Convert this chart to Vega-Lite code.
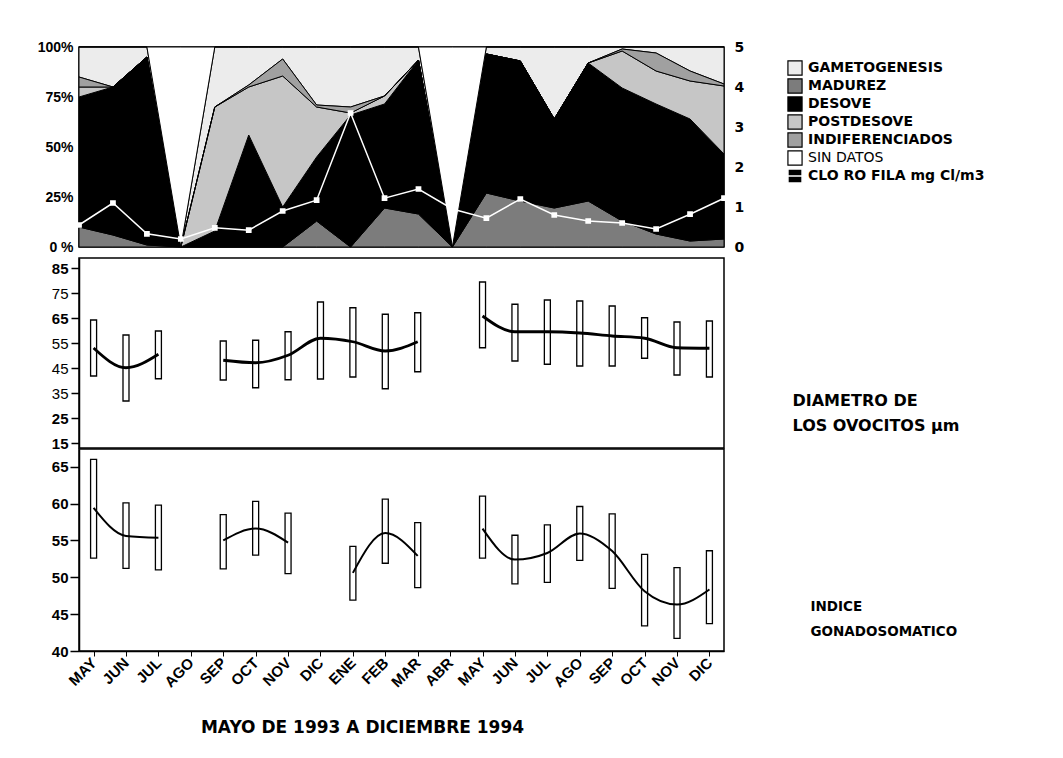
{
  "$schema": "https://vega.github.io/schema/vega-lite/v6.json",
  "background": "white",
  "padding": {"left": 36, "top": 39, "right": 0, "bottom": 5},
  "config": {
    "font": "Liberation Sans",
    "view": {"stroke": "black", "strokeWidth": 1.5},
    "axis": {"grid": false, "labelColor": "black", "titleColor": "black", "domainColor": "black", "tickColor": "black"}
  },
  "datasets": {
    "fases": [
      {"mes": "MAY 1993", "GAMETOGENESIS": 15, "MADUREZ": 10, "DESOVE": 65, "POSTDESOVE": 5, "INDIFERENCIADOS": 5, "SIN DATOS": 0, "clorofila": 0.55},
      {"mes": "JUN 1993", "GAMETOGENESIS": 20, "MADUREZ": 6, "DESOVE": 74, "POSTDESOVE": 0, "INDIFERENCIADOS": 0, "SIN DATOS": 0, "clorofila": 1.1},
      {"mes": "JUL 1993", "GAMETOGENESIS": 5, "MADUREZ": 1, "DESOVE": 94, "POSTDESOVE": 0, "INDIFERENCIADOS": 0, "SIN DATOS": 0, "clorofila": 0.33},
      {"mes": "AGO 1993", "GAMETOGENESIS": 0, "MADUREZ": 0, "DESOVE": 0, "POSTDESOVE": 0, "INDIFERENCIADOS": 0, "SIN DATOS": 100, "clorofila": 0.2},
      {"mes": "SEP 1993", "GAMETOGENESIS": 30, "MADUREZ": 0, "DESOVE": 8, "POSTDESOVE": 62, "INDIFERENCIADOS": 0, "SIN DATOS": 0, "clorofila": 0.48},
      {"mes": "OCT 1993", "GAMETOGENESIS": 19, "MADUREZ": 0, "DESOVE": 56, "POSTDESOVE": 24, "INDIFERENCIADOS": 1, "SIN DATOS": 0, "clorofila": 0.42},
      {"mes": "NOV 1993", "GAMETOGENESIS": 6, "MADUREZ": 0, "DESOVE": 20, "POSTDESOVE": 65.5, "INDIFERENCIADOS": 8.5, "SIN DATOS": 0, "clorofila": 0.9},
      {"mes": "DIC 1993", "GAMETOGENESIS": 29, "MADUREZ": 13, "DESOVE": 32, "POSTDESOVE": 25, "INDIFERENCIADOS": 1, "SIN DATOS": 0, "clorofila": 1.17},
      {"mes": "ENE 1994", "GAMETOGENESIS": 30, "MADUREZ": 0, "DESOVE": 66, "POSTDESOVE": 1, "INDIFERENCIADOS": 3, "SIN DATOS": 0, "clorofila": 3.35},
      {"mes": "FEB 1994", "GAMETOGENESIS": 24.5, "MADUREZ": 19.5, "DESOVE": 52, "POSTDESOVE": 4, "INDIFERENCIADOS": 0, "SIN DATOS": 0, "clorofila": 1.22},
      {"mes": "MAR 1994", "GAMETOGENESIS": 6.5, "MADUREZ": 16.5, "DESOVE": 77, "POSTDESOVE": 0, "INDIFERENCIADOS": 0, "SIN DATOS": 0, "clorofila": 1.45},
      {"mes": "ABR 1994", "GAMETOGENESIS": 0, "MADUREZ": 0, "DESOVE": 0, "POSTDESOVE": 0, "INDIFERENCIADOS": 0, "SIN DATOS": 100, "clorofila": 0.95},
      {"mes": "MAY 1994", "GAMETOGENESIS": 3.5, "MADUREZ": 27, "DESOVE": 69.5, "POSTDESOVE": 0, "INDIFERENCIADOS": 0, "SIN DATOS": 0, "clorofila": 0.72},
      {"mes": "JUN 1994", "GAMETOGENESIS": 7, "MADUREZ": 23, "DESOVE": 70, "POSTDESOVE": 0, "INDIFERENCIADOS": 0, "SIN DATOS": 0, "clorofila": 1.2},
      {"mes": "JUL 1994", "GAMETOGENESIS": 36, "MADUREZ": 19.5, "DESOVE": 44.5, "POSTDESOVE": 0, "INDIFERENCIADOS": 0, "SIN DATOS": 0, "clorofila": 0.8},
      {"mes": "AGO 1994", "GAMETOGENESIS": 8, "MADUREZ": 23, "DESOVE": 69, "POSTDESOVE": 0, "INDIFERENCIADOS": 0, "SIN DATOS": 0, "clorofila": 0.65},
      {"mes": "SEP 1994", "GAMETOGENESIS": 1, "MADUREZ": 13, "DESOVE": 66.5, "POSTDESOVE": 18.5, "INDIFERENCIADOS": 1, "SIN DATOS": 0, "clorofila": 0.6},
      {"mes": "OCT 1994", "GAMETOGENESIS": 3, "MADUREZ": 6.5, "DESOVE": 65, "POSTDESOVE": 16.5, "INDIFERENCIADOS": 9, "SIN DATOS": 0, "clorofila": 0.45},
      {"mes": "NOV 1994", "GAMETOGENESIS": 12, "MADUREZ": 3, "DESOVE": 61, "POSTDESOVE": 19, "INDIFERENCIADOS": 5, "SIN DATOS": 0, "clorofila": 0.82},
      {"mes": "DIC 1994", "GAMETOGENESIS": 18.5, "MADUREZ": 4, "DESOVE": 42.5, "POSTDESOVE": 34, "INDIFERENCIADOS": 1, "SIN DATOS": 0, "clorofila": 1.22}
    ],
    "orden": [
      {"fase": "MADUREZ", "orden": 1},
      {"fase": "DESOVE", "orden": 2},
      {"fase": "POSTDESOVE", "orden": 3},
      {"fase": "INDIFERENCIADOS", "orden": 4},
      {"fase": "GAMETOGENESIS", "orden": 5},
      {"fase": "SIN DATOS", "orden": 6}
    ],
    "diametro": [
      {"mes": "MAY 1993", "tramo": 1, "media": 53, "min": 41.8, "max": 64.2},
      {"mes": "JUN 1993", "tramo": 1, "media": 45.1, "min": 31.8, "max": 58.2},
      {"mes": "JUL 1993", "tramo": 1, "media": 50.5, "min": 40.7, "max": 59.8},
      {"mes": "SEP 1993", "tramo": 2, "media": 48.1, "min": 40.2, "max": 55.8},
      {"mes": "OCT 1993", "tramo": 2, "media": 47.1, "min": 37.1, "max": 56.1},
      {"mes": "NOV 1993", "tramo": 2, "media": 50.1, "min": 40.3, "max": 59.5},
      {"mes": "DIC 1993", "tramo": 2, "media": 56.9, "min": 40.6, "max": 71.4},
      {"mes": "ENE 1994", "tramo": 2, "media": 55.5, "min": 41.4, "max": 69.1},
      {"mes": "FEB 1994", "tramo": 2, "media": 51.8, "min": 36.7, "max": 66.5},
      {"mes": "MAR 1994", "tramo": 2, "media": 55.5, "min": 43.5, "max": 67.1},
      {"mes": "MAY 1994", "tramo": 3, "media": 65.8, "min": 53.1, "max": 79.4},
      {"mes": "JUN 1994", "tramo": 3, "media": 59.5, "min": 47.8, "max": 70.5},
      {"mes": "JUL 1994", "tramo": 3, "media": 59.5, "min": 46.5, "max": 72.2},
      {"mes": "AGO 1994", "tramo": 3, "media": 59, "min": 45.8, "max": 71.8},
      {"mes": "SEP 1994", "tramo": 3, "media": 57.8, "min": 45.8, "max": 69.8},
      {"mes": "OCT 1994", "tramo": 3, "media": 56.9, "min": 48.9, "max": 65.1},
      {"mes": "NOV 1994", "tramo": 3, "media": 53.1, "min": 42.2, "max": 63.4},
      {"mes": "DIC 1994", "tramo": 3, "media": 52.9, "min": 41.4, "max": 63.8}
    ],
    "igs": [
      {"mes": "MAY 1993", "tramo": 1, "media": 59.4, "min": 52.6, "max": 66.0},
      {"mes": "JUN 1993", "tramo": 1, "media": 55.6, "min": 51.2, "max": 60.1},
      {"mes": "JUL 1993", "tramo": 1, "media": 55.35, "min": 51.0, "max": 59.8},
      {"mes": "SEP 1993", "tramo": 2, "media": 55.0, "min": 51.15, "max": 58.5},
      {"mes": "OCT 1993", "tramo": 2, "media": 56.6, "min": 53.0, "max": 60.3},
      {"mes": "NOV 1993", "tramo": 2, "media": 54.7, "min": 50.5, "max": 58.7},
      {"mes": "ENE 1994", "tramo": 3, "media": 50.6, "min": 46.9, "max": 54.2},
      {"mes": "FEB 1994", "tramo": 3, "media": 56.0, "min": 51.9, "max": 60.6},
      {"mes": "MAR 1994", "tramo": 3, "media": 52.9, "min": 48.6, "max": 57.4},
      {"mes": "MAY 1994", "tramo": 4, "media": 56.6, "min": 52.6, "max": 61.0},
      {"mes": "JUN 1994", "tramo": 4, "media": 52.4, "min": 49.1, "max": 55.7},
      {"mes": "JUL 1994", "tramo": 4, "media": 53.3, "min": 49.3, "max": 57.1},
      {"mes": "AGO 1994", "tramo": 4, "media": 55.95, "min": 52.3, "max": 59.6},
      {"mes": "SEP 1994", "tramo": 4, "media": 53.55, "min": 48.5, "max": 58.6},
      {"mes": "OCT 1994", "tramo": 4, "media": 48.1, "min": 43.4, "max": 53.1},
      {"mes": "NOV 1994", "tramo": 4, "media": 46.3, "min": 41.7, "max": 51.3},
      {"mes": "DIC 1994", "tramo": 4, "media": 48.35, "min": 43.7, "max": 53.6}
    ]
  },
  "bounds": "flush",
  "spacing": 11,
  "vconcat": [
    {
      "width": 645,
      "height": 200,
      "layer": [
        {
          "data": {"name": "fases"},
          "transform": [
            {"fold": ["GAMETOGENESIS", "MADUREZ", "DESOVE", "POSTDESOVE", "INDIFERENCIADOS", "SIN DATOS"], "as": ["fase", "pct"]},
            {"lookup": "fase", "from": {"data": {"name": "orden"}, "key": "fase", "fields": ["orden"]}}
          ],
          "mark": {"type": "area", "interpolate": "linear", "stroke": "black", "strokeWidth": 1},
          "encoding": {
            "x": {"field": "mes", "type": "ordinal", "scale": {"type": "point", "padding": 0, "domain": ["MAY 1993","JUN 1993","JUL 1993","AGO 1993","SEP 1993","OCT 1993","NOV 1993","DIC 1993","ENE 1994","FEB 1994","MAR 1994","ABR 1994","MAY 1994","JUN 1994","JUL 1994","AGO 1994","SEP 1994","OCT 1994","NOV 1994","DIC 1994"]}, "axis": null},
            "y": {"field": "pct", "type": "quantitative", "stack": "zero", "scale": {"domain": [0, 100], "nice": false},
              "axis": {"values": [0, 25, 50, 75, 100], "title": null, "domain": false, "ticks": false, "labelPadding": 6, "labelFontSize": 14, "labelFontWeight": "bold", "labelExpr": "datum.value == 0 ? '0 %' : datum.value + '%'"}},
            "fill": {"field": "fase", "type": "nominal",
              "scale": {"domain": ["GAMETOGENESIS", "MADUREZ", "DESOVE", "POSTDESOVE", "INDIFERENCIADOS", "SIN DATOS"], "range": ["#ececec", "#7c7c7c", "#000000", "#c6c6c6", "#a0a0a0", "#ffffff"]},
              "legend": {"orient": "none", "legendX": 708, "legendY": 13, "title": null, "symbolType": "square", "symbolSize": 200, "symbolStrokeColor": "black", "symbolStrokeWidth": 1.2, "labelFont": "DejaVu Sans", "labelFontSize": 14, "labelFontWeight": "bold", "labelColor": "black", "labelLimit": 400, "rowPadding": -2, "labelOffset": 5,
                "encode": {"symbols": {"update": {"stroke": {"value": "black"}, "strokeWidth": {"value": 1.2}}}, "labels": {"update": {"fontWeight": {"signal": "datum.label == 'SIN DATOS' ? 'normal' : 'bold'"}}}}}},
            "order": {"field": "orden", "type": "quantitative"}
          }
        },
        {
          "data": {"name": "fases"},
          "mark": {"type": "line", "strokeWidth": 1.5, "point": {"shape": "square", "size": 14, "filled": true, "fill": "white"}},
          "encoding": {
            "x": {"field": "mes", "type": "ordinal"},
            "y": {"field": "clorofila", "type": "quantitative", "scale": {"domain": [0, 5], "nice": false},
              "axis": {"orient": "right", "values": [0, 1, 2, 3, 4, 5], "title": null, "domain": false, "ticks": false, "labelPadding": 10, "labelFont": "DejaVu Sans", "labelFontSize": 14, "labelFontWeight": "bold"}},
            "stroke": {"datum": "CLO RO FILA mg Cl/m3", "type": "nominal", "scale": {"range": ["white"]},
              "legend": {"orient": "none", "legendX": 708, "legendY": 121, "title": null, "symbolType": "M-2.5,0H2.5M-1,-1H1V1H-1Z", "symbolSize": 200, "labelFont": "DejaVu Sans", "labelFontSize": 14, "labelFontWeight": "bold", "labelColor": "black", "labelLimit": 400, "labelOffset": 5,
                "encode": {"symbols": {"update": {"stroke": {"value": "black"}, "fill": {"value": "black"}, "strokeWidth": {"value": 1.5}, "shape": {"value": "M-2.5,0H2.5M-1,-1H1V1H-1Z"}}}}}}
          }
        }
      ],
      "resolve": {"scale": {"y": "independent", "stroke": "independent", "fill": "independent"}}
    },
    {
      "bounds": "flush",
      "spacing": 1,
      "vconcat": [
        {
          "width": 645,
          "height": 190,
          "data": {"name": "diametro"},
          "layer": [
            {
              "mark": {"type": "bar", "width": 6, "fill": "white", "stroke": "black", "strokeWidth": 1.3},
              "encoding": {
                "x": {"field": "mes", "type": "ordinal", "scale": {"type": "point", "padding": 0.45, "domain": ["MAY 1993","JUN 1993","JUL 1993","AGO 1993","SEP 1993","OCT 1993","NOV 1993","DIC 1993","ENE 1994","FEB 1994","MAR 1994","ABR 1994","MAY 1994","JUN 1994","JUL 1994","AGO 1994","SEP 1994","OCT 1994","NOV 1994","DIC 1994"]}, "axis": null},
                "y": {"field": "min", "type": "quantitative", "scale": {"domain": [13, 89], "nice": false},
                  "axis": {"values": [15, 25, 35, 45, 55, 65, 75, 85], "title": null, "domain": true, "domainWidth": 1.5, "tickSize": 8, "tickWidth": 1.5, "labelPadding": 3, "labelFontSize": 15,
                    "labelFontWeight": {"condition": {"test": "datum.value == 85 || datum.value == 65 || datum.value == 25 || datum.value == 15", "value": "bold"}, "value": "normal"}}},
                "y2": {"field": "max"}
              }
            },
            {
              "mark": {"type": "line", "interpolate": "monotone", "color": "black", "strokeWidth": 2.8},
              "encoding": {
                "x": {"field": "mes", "type": "ordinal"},
                "y": {"field": "media", "type": "quantitative", "scale": {"domain": [13, 89], "nice": false},
                  "axis": {"orient": "right", "labels": false, "ticks": false, "domain": false, "title": ["DIAMETRO DE", "LOS OVOCITOS µm"], "titleAngle": 0, "titleAlign": "left", "titleBaseline": "top", "titleX": 68, "titleY": 134, "titleFont": "DejaVu Sans", "titleFontSize": 16, "titleFontWeight": "bold", "titleLineHeight": 25}},
                "detail": {"field": "tramo", "type": "nominal"}
              }
            }
          ],
          "resolve": {"scale": {"y": "independent"}}
        },
        {
          "width": 645,
          "height": 202,
          "data": {"name": "igs"},
          "layer": [
            {
              "mark": {"type": "bar", "width": 6, "fill": "white", "stroke": "black", "strokeWidth": 1.3},
              "encoding": {
                "x": {"field": "mes", "type": "ordinal", "scale": {"type": "point", "padding": 0.45, "domain": ["MAY 1993","JUN 1993","JUL 1993","AGO 1993","SEP 1993","OCT 1993","NOV 1993","DIC 1993","ENE 1994","FEB 1994","MAR 1994","ABR 1994","MAY 1994","JUN 1994","JUL 1994","AGO 1994","SEP 1994","OCT 1994","NOV 1994","DIC 1994"]},
                  "axis": {"title": "MAYO DE 1993 A DICIEMBRE 1994", "titleFont": "DejaVu Sans", "titleFontSize": 17, "titleFontWeight": "bold", "titleX": 283, "titleY": 68, "titleBaseline": "top", "labelAngle": -45, "labelAlign": "right", "labelBaseline": "middle", "labelFontSize": 15, "labelFontWeight": "bold", "labelPadding": 4, "tickSize": 5, "domainWidth": 1.5, "labelExpr": "slice(datum.label, 0, 3)"}},
                "y": {"field": "min", "type": "quantitative", "scale": {"domain": [40, 67.4], "nice": false},
                  "axis": {"values": [40, 45, 50, 55, 60, 65], "title": null, "domain": true, "domainWidth": 1.5, "tickSize": 9, "tickWidth": 1.5, "labelPadding": 2, "labelFontSize": 15, "labelFontWeight": "bold"}},
                "y2": {"field": "max"}
              }
            },
            {
              "mark": {"type": "line", "interpolate": "monotone", "color": "black", "strokeWidth": 2},
              "encoding": {
                "x": {"field": "mes", "type": "ordinal"},
                "y": {"field": "media", "type": "quantitative", "scale": {"domain": [40, 67.4], "nice": false},
                  "axis": {"orient": "right", "labels": false, "ticks": false, "domain": false, "title": ["INDICE", "GONADOSOMATICO"], "titleAngle": 0, "titleAlign": "left", "titleBaseline": "top", "titleX": 86, "titleY": 150, "titleFont": "DejaVu Sans", "titleFontSize": 13.5, "titleFontWeight": "bold", "titleLineHeight": 25}},
                "detail": {"field": "tramo", "type": "nominal"}
              }
            }
          ],
          "resolve": {"scale": {"y": "independent"}}
        }
      ]
    }
  ]
}
